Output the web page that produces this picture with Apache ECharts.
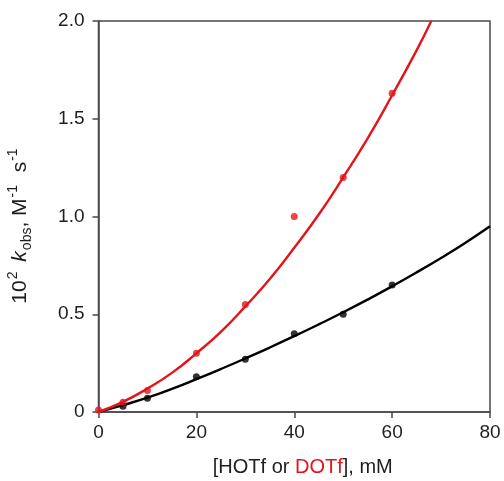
<!DOCTYPE html>
<html><head><meta charset="utf-8">
<script src="https://cdn.jsdelivr.net/npm/echarts@6/dist/echarts.min.js"></script>
<style>html,body{margin:0;padding:0;background:#fff}#c{width:504px;height:481px}</style>
</head><body><div id="c"></div>
<script>
// measured points
const hX = [5, 10, 20, 30, 40, 50, 60];
const hY = [0.03, 0.07, 0.18, 0.27, 0.40, 0.50, 0.65];
const dX = [0, 5, 10, 20, 30, 40, 50, 60];
const dY = [0.01, 0.05, 0.11, 0.30, 0.55, 1.00, 1.20, 1.63];
// fitted curves
const hCurveX = [0, 5, 10, 15, 20, 25, 30, 35, 40, 45, 50, 55, 60, 65, 70, 75, 80];
const hCurveY = [0, 0.035, 0.073, 0.118, 0.168, 0.22, 0.274, 0.33, 0.388, 0.448, 0.51, 0.575, 0.643, 0.714, 0.788, 0.866, 0.95];
const dCurveX = [0, 5, 10, 15, 20, 25, 30, 35, 40, 45, 50, 55, 60, 65, 68];
const dCurveY = [0, 0.052, 0.12, 0.2, 0.30, 0.41, 0.54, 0.68, 0.84, 1.01, 1.2, 1.4, 1.62, 1.85, 2.0];
const xTicks = [0, 20, 40, 60, 80];
const yTicks = [0, 0.5, 1.0, 1.5, 2.0];

const zip = (a, b) => a.map((v, i) => [v, b[i]]);
const RED = '#e5141a', BLK = '#000', AX = '#4a4a4a', TXT = '#1e1e1e';
const FONT = 'Liberation Sans';
const chart = echarts.init(document.getElementById('c'), null, {renderer: 'canvas'});
chart.setOption({
  animation: false,
  textStyle: {fontFamily: FONT},
  grid: {left: 98.5, right: 14, top: 21, bottom: 69, show: true, borderColor: AX, borderWidth: 1.5,
    containLabel: false, outerBoundsMode: 'none'},
  xAxis: {
    type: 'value', min: 0, max: 80, interval: 20,
    axisLine: {show: true, lineStyle: {color: AX, width: 1.5}},
    axisTick: {show: true, inside: false, length: 6, lineStyle: {color: AX, width: 1.5}},
    splitLine: {show: false},
    axisLabel: {fontSize: 19, color: TXT, margin: 11, fontFamily: FONT,
      formatter: v => xTicks.includes(v) ? String(v) : ''},
    name: '[HOTf or {r|DOTf}], mM',
    nameLocation: 'middle', nameGap: 45,
    nameTextStyle: {fontSize: 20, color: TXT, fontFamily: FONT, padding: [0, 0, 0, 17],
      rich: {r: {color: RED, fontSize: 20, fontFamily: FONT}}}
  },
  yAxis: {
    type: 'value', min: 0, max: 2, interval: 0.5,
    axisLine: {show: true, lineStyle: {color: AX, width: 1.5}},
    axisTick: {show: true, inside: false, length: 6, lineStyle: {color: AX, width: 1.5}},
    splitLine: {show: false},
    axisLabel: {fontSize: 19, color: TXT, margin: 14, fontFamily: FONT,
      formatter: v => yTicks.includes(v) ? (v === 0 ? '0' : v.toFixed(1)) : ''},
    name: '{n|10}{sup|2} {k|k}{sub|obs}{n|, M}{sup|-1}{n|  s}{sup|-1}',
    nameLocation: 'middle', nameGap: 64, nameRotate: 90,
    nameTextStyle: {
      color: TXT, fontSize: 21, fontFamily: FONT, padding: [0, 18, 0, 0],
      rich: {
        n: {fontSize: 21, color: TXT, fontFamily: FONT, lineHeight: 28, verticalAlign: 'middle'},
        k: {fontSize: 21, color: TXT, fontFamily: FONT, fontStyle: 'italic', lineHeight: 28, verticalAlign: 'middle', padding: [0, 1, 0, 3]},
        sup: {fontSize: 14, color: TXT, fontFamily: FONT, lineHeight: 28, verticalAlign: 'top', padding: [0, 1, 0, 1]},
        sub: {fontSize: 14, color: TXT, fontFamily: FONT, lineHeight: 28, verticalAlign: 'bottom'}
      }
    }
  },
  series: [
    {type: 'line', data: zip(hCurveX, hCurveY), smooth: 0.5, showSymbol: false, symbol: 'none',
      lineStyle: {color: BLK, width: 2.4}, z: 2},
    {type: 'line', data: zip(dCurveX, dCurveY), smooth: 0.5, showSymbol: false, symbol: 'none',
      lineStyle: {color: RED, width: 2.4}, z: 2},
    {type: 'scatter', data: zip(hX, hY), symbolSize: 7, itemStyle: {color: BLK}, z: 3},
    {type: 'scatter', data: zip(dX, dY), symbolSize: 7, itemStyle: {color: RED}, z: 3}
  ]
});
</script></body></html>
